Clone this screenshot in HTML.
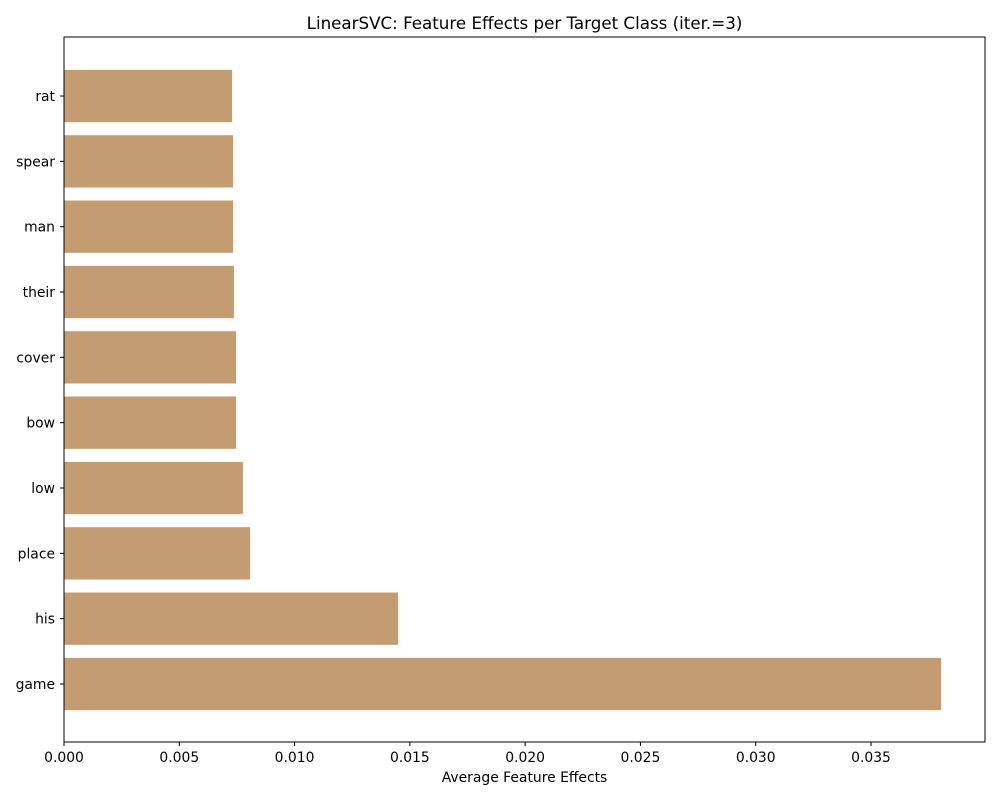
<!DOCTYPE html>
<html><head><meta charset="utf-8"><style>
body{margin:0;background:#fff;}
svg text{font-family:"DejaVu Sans","Liberation Sans",sans-serif;fill:#000;}
</style></head><body>
<svg id="chart" width="1000" height="800" xmlns="http://www.w3.org/2000/svg">
<rect width="1000" height="800" fill="#fff"/>
<text x="524.5" y="29" font-size="16.7" text-anchor="middle">LinearSVC: Feature Effects per Target Class (iter.=3)</text>
<g id="bars"></g>
<g id="xticks"></g>
<g id="yticks"></g>
<rect x="64" y="37" width="921" height="705" fill="none" stroke="#000" stroke-width="1"/>
<text x="524.5" y="782" font-size="13.9" text-anchor="middle">Average Feature Effects</text>
</svg>
<script>
const categories = ["game","his","place","low","bow","cover","their","man","spear","rat"];
const values = [0.03804,0.01449,0.00807,0.00776,0.00746,0.00746,0.00737,0.00733,0.00733,0.00729];
const xTicks = [0,0.005,0.010,0.015,0.020,0.025,0.030,0.035];
const xTickLabels = ["0.000","0.005","0.010","0.015","0.020","0.025","0.030","0.035"];

const NS="http://www.w3.org/2000/svg";
const x0=64, xScale=(871-64)/0.035;
function xPos(v){return x0+v*xScale;}
const yBottom=684, step=65.33;
function yPos(i){return yBottom-i*step;}
const barH=52.3;
const bars=document.getElementById('bars'), xt=document.getElementById('xticks'), yt=document.getElementById('yticks');
categories.forEach((c,i)=>{
  const r=document.createElementNS(NS,'rect');
  
  
  r.setAttribute('x',xPos(0));r.setAttribute('y',yPos(i)-barH/2);
  r.setAttribute('width',xPos(values[i])-xPos(0));r.setAttribute('height',barH);
  r.setAttribute('fill','#c49c72');
  bars.appendChild(r);
  const l=document.createElementNS(NS,'line');
  l.setAttribute('x1',60);l.setAttribute('x2',64);l.setAttribute('y1',yPos(i));l.setAttribute('y2',yPos(i));
  l.setAttribute('stroke','#000');yt.appendChild(l);
  const t=document.createElementNS(NS,'text');
  
  
  t.setAttribute('x',55);t.setAttribute('y',yPos(i)+5);t.setAttribute('font-size','13.9');t.setAttribute('text-anchor','end');
  t.textContent=c;yt.appendChild(t);
});
xTicks.forEach((v,i)=>{
  const l=document.createElementNS(NS,'line');
  l.setAttribute('x1',xPos(v));l.setAttribute('x2',xPos(v));l.setAttribute('y1',742);l.setAttribute('y2',746);
  l.setAttribute('stroke','#000');xt.appendChild(l);
  const t=document.createElementNS(NS,'text');
  
  
  t.setAttribute('x',xPos(v));t.setAttribute('y',762);t.setAttribute('font-size','13.9');t.setAttribute('text-anchor','middle');
  t.textContent=xTickLabels[i];xt.appendChild(t);
});
</script>
</body></html>
